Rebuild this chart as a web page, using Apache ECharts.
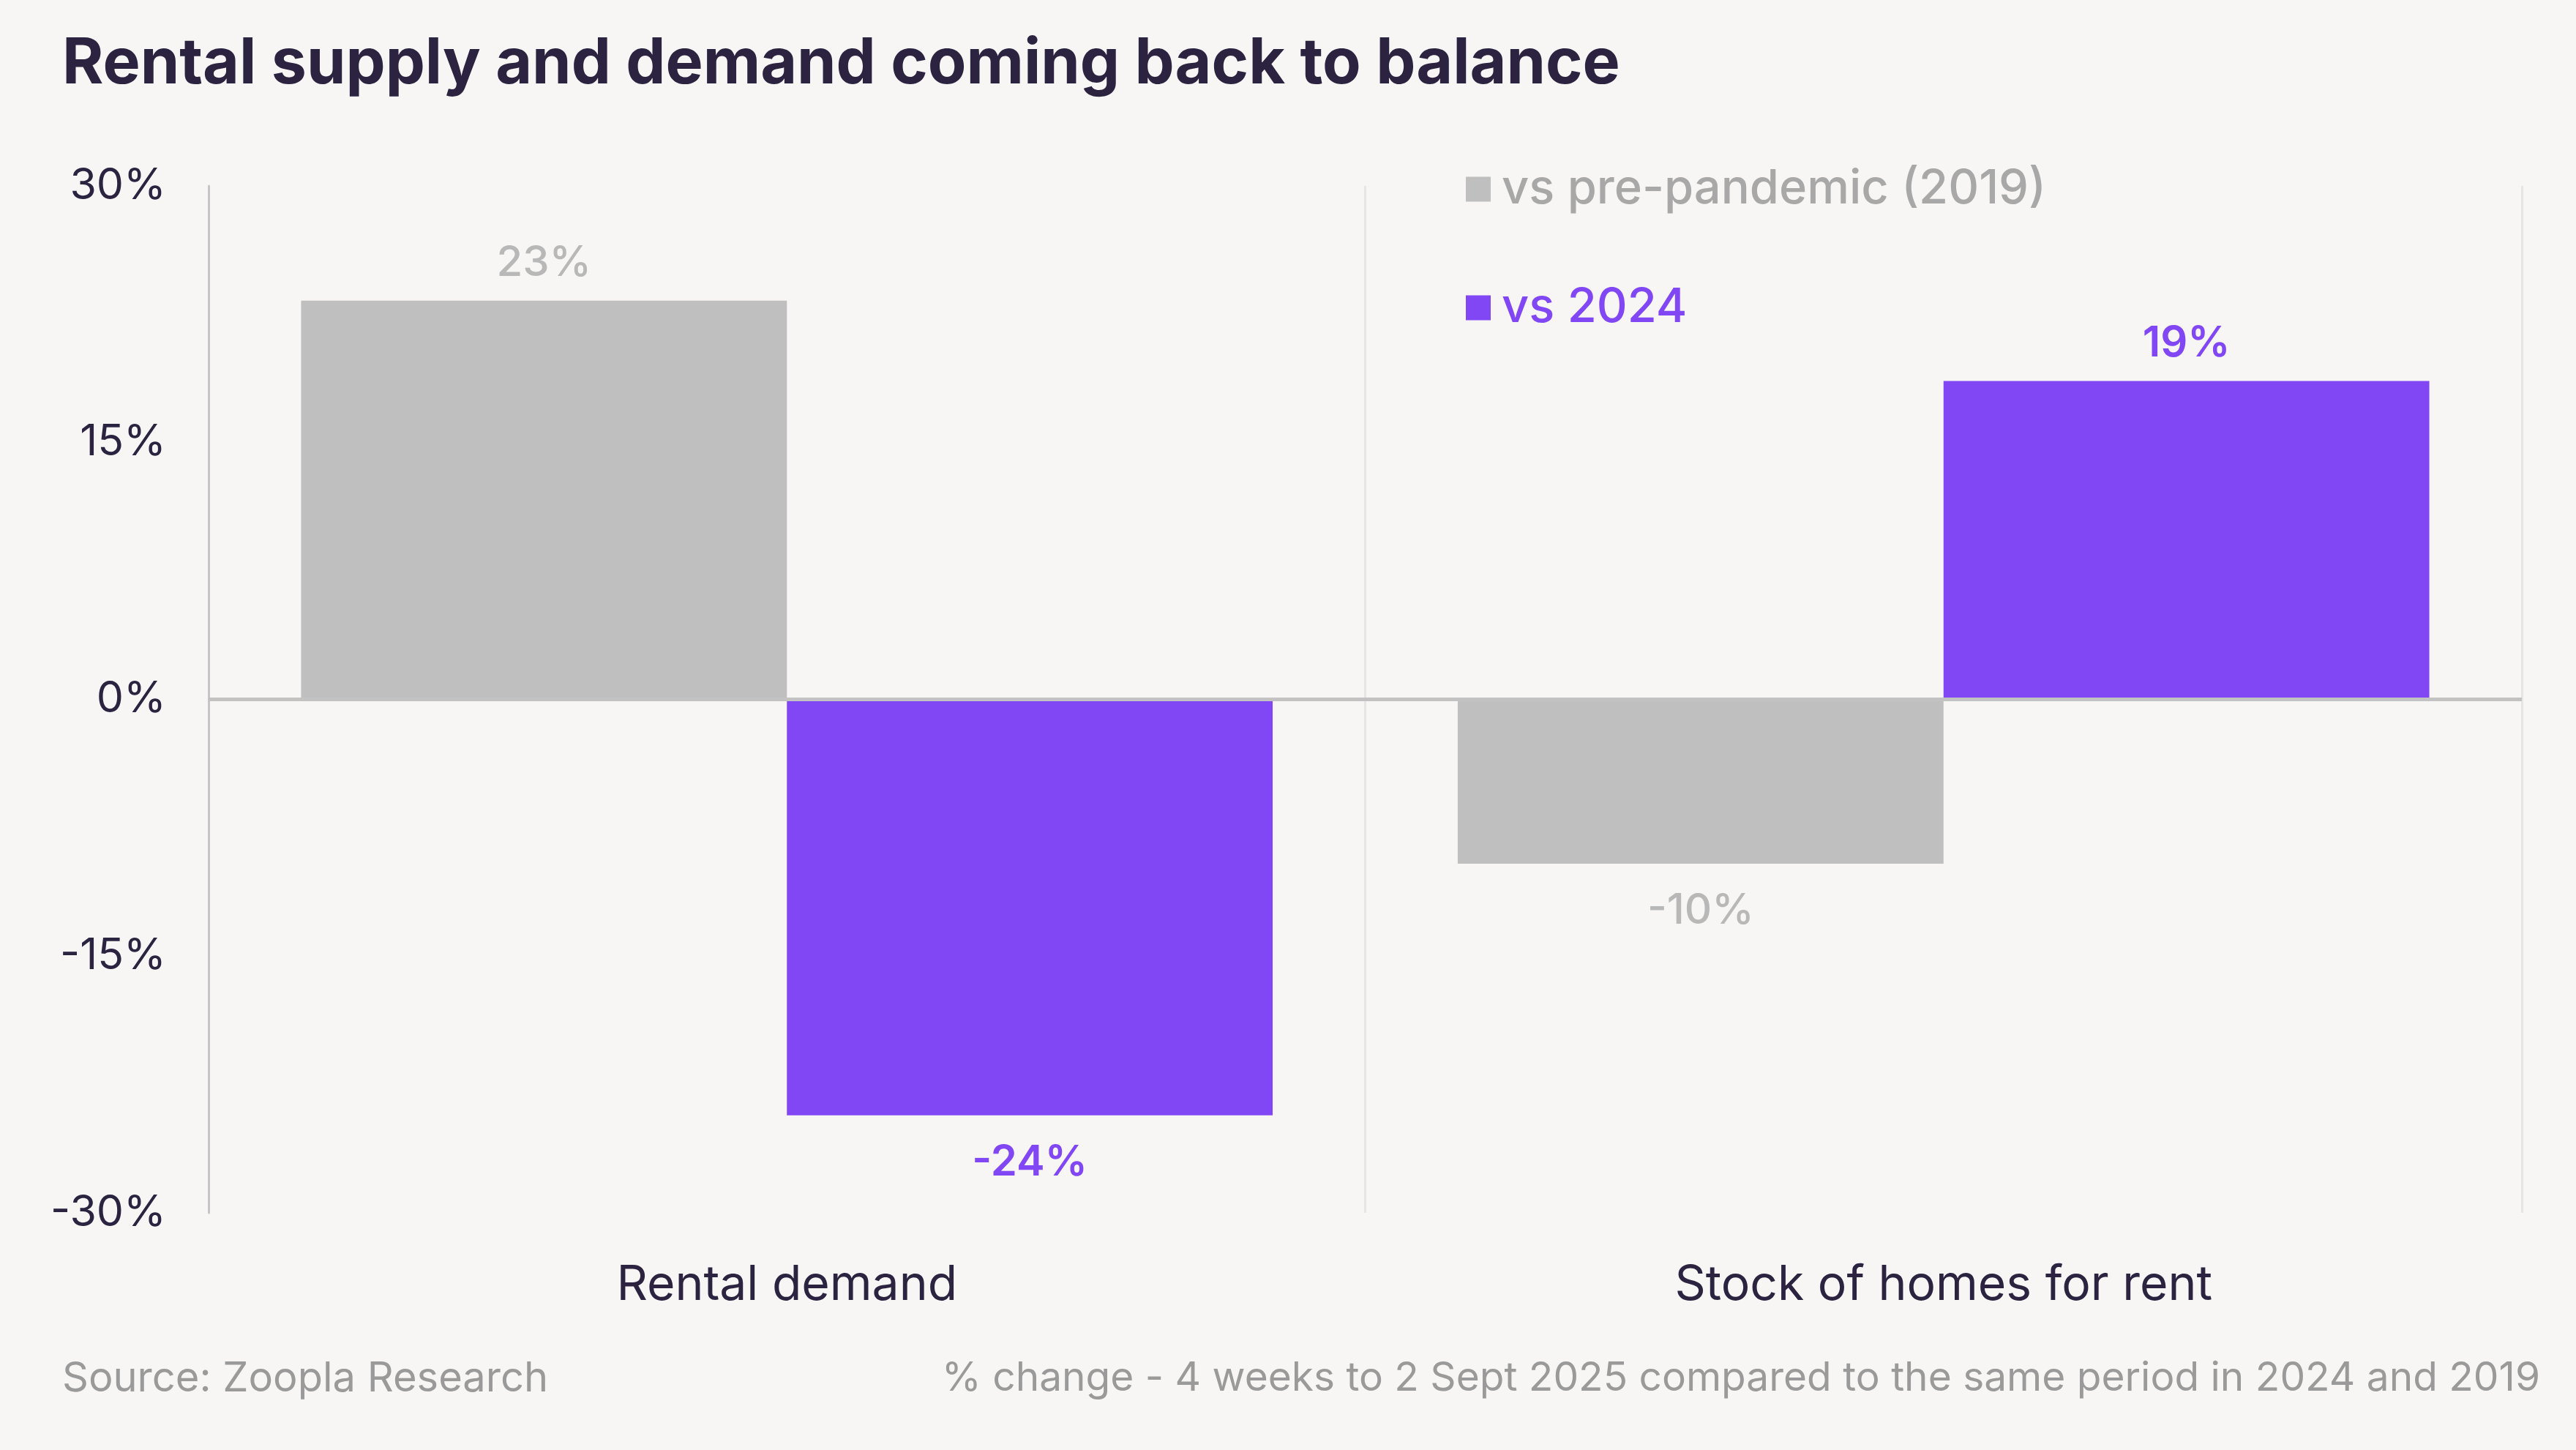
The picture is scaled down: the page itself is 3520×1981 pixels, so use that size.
<!DOCTYPE html>
<html>
<head>
<meta charset="utf-8">
<script src="https://cdn.jsdelivr.net/npm/echarts@6/dist/echarts.min.js"></script>
<style>
html,body{margin:0;padding:0;background:#f7f6f4;}
#chart{width:3520px;height:1981px;}
</style>
</head>
<body>
<div id="chart"></div>
<script>
const categories = ['Rental demand', 'Stock of homes for rent'];
const seriesNames = ['vs pre-pandemic (2019)', 'vs 2024'];
const vsPrePandemic = [23.3, -9.6];
const vs2024 = [-24.3, 18.6];
const yTicks = { min: -30, max: 30, interval: 15 };

const FONT = 'Inter, "Noto Sans", sans-serif';
const DARK = '#2b2340';
const GREY_BAR = '#bfbfbf';
const PURPLE = '#8247f4';

function items(values, labelColor) {
  return values.map(v => ({
    value: v,
    label: { position: v >= 0 ? 'top' : 'bottom', distance: v >= 0 ? 22 : 36, color: labelColor }
  }));
}

const chart = echarts.init(document.getElementById('chart'));
chart.setOption({
  backgroundColor: '#f7f6f4',
  textStyle: { fontFamily: FONT },
  title: [
    { text: 'Rental supply and demand coming back to balance', left: 80, top: 40,
      textStyle: { fontFamily: FONT, fontSize: 86, fontWeight: 'bold', color: DARK } },
    { text: 'Source: Zoopla Research', left: 80, top: 1851,
      textStyle: { fontFamily: FONT, fontSize: 56, fontWeight: 'normal', color: '#9a9a9a' } },
    { text: '% change - 4 weeks to 2 Sept 2025 compared to the same period in 2024 and 2019', right: 44, top: 1851,
      textStyle: { fontFamily: FONT, fontSize: 55, fontWeight: 'normal', color: '#9a9a9a' } }
  ],
  legend: {
    orient: 'vertical', left: 1998, top: 221,
    itemWidth: 34, itemHeight: 34, itemGap: 97,
    icon: 'rect',
    textStyle: { fontFamily: FONT, fontSize: 65, fontWeight: 500, padding: [0, 0, 0, 10] },
    data: [
      { name: seriesNames[0], textStyle: { color: '#a8a8a8' } },
      { name: seriesNames[1], textStyle: { color: PURPLE } }
    ]
  },
  grid: { left: 285, right: 74, top: 254, bottom: 324, containLabel: false },
  xAxis: {
    type: 'category', data: categories,
    axisLine: { show: false, onZero: false },
    axisTick: { show: false },
    splitLine: { show: true, lineStyle: { color: '#e6e6e6', width: 3 } },
    axisLabel: { fontFamily: FONT, fontSize: 66, color: DARK, margin: 66 }
  },
  yAxis: {
    type: 'value', min: yTicks.min, max: yTicks.max, interval: yTicks.interval,
    axisLine: { show: true, lineStyle: { color: '#c6c6c6', width: 3 } },
    axisTick: { show: false },
    splitLine: { show: false },
    axisLabel: { fontFamily: FONT, fontSize: 59, color: DARK, margin: 58, formatter: '{value}%' }
  },
  series: [
    {
      name: seriesNames[0], type: 'bar', data: items(vsPrePandemic, '#b8b8b8'),
      itemStyle: { color: GREY_BAR }, barGap: '0%', barCategoryGap: '16%',
      label: { show: true, fontFamily: FONT, fontSize: 58, fontWeight: 500,
        formatter: p => Math.round(p.value) + '%' },
      markLine: {
        silent: true, symbol: 'none', label: { show: false },
        lineStyle: { color: '#c2c2c2', width: 5, type: 'solid' },
        data: [{ yAxis: 0 }]
      }
    },
    {
      name: seriesNames[1], type: 'bar', data: items(vs2024, PURPLE),
      itemStyle: { color: PURPLE }, barGap: '0%', barCategoryGap: '16%',
      label: { show: true, fontFamily: FONT, fontSize: 58, fontWeight: 600,
        formatter: p => Math.round(p.value) + '%' }
    }
  ]
});
</script>
</body>
</html>
